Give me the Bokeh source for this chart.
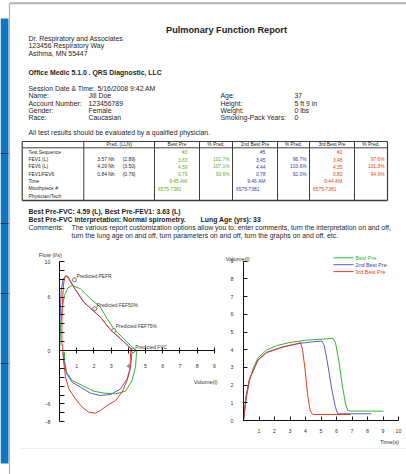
from bokeh.plotting import figure
from bokeh.models import Range1d, LinearAxis, FixedTicker
from bokeh.core.properties import value
from bokeh.embed import file_html
from bokeh.resources import INLINE

# ---------------- report text ----------------
title = "Pulmonary Function Report"
clinic_lines = ["Dr. Respiratory and Associates", "123456 Respiratory Way", "Asthma, MN 55447"]
software = "Office Medic 5.1.0 . QRS Diagnostic, LLC"
session_label = "Session Date & Time:"
session_value = "5/16/2008 9:42 AM"
patient_labels = ["Name:", "Account Number:", "Gender:", "Race:"]
patient_values = ["Jill Doe", "123456789", "Female", "Caucasian"]
patient2_labels = ["Age:", "Height:", "Weight:", "Smoking-Pack Years:"]
patient2_values = ["37", "5 ft 9 in", "0 lbs", "0"]
disclaimer = "All test results should be evaluated by a qualified physician."

# ---------------- table ----------------
table_headers = ["Pred. (LLN)", "Best Pre", "% Pred.", "2nd Best Pre", "% Pred.", "3rd Best Pre", "% Pred."]
row_labels = ["Test Sequence", "FEV1 (L)", "FEV6 (L)", "FEV1/FEV6", "Time", "Mouthpiece #", "Physician/Tech"]
pred_values = ["3.57 Nh", "4.29 Nh", "0.84 Nh"]
lln_values = ["(2.89)", "(3.50)", "(0.76)"]
best_values = ["#3", "3.63", "4.59", "0.79", "9:45 AM", "6575-7381"]
best_pct = ["101.7%", "107.1%", "93.6%"]
second_values = ["#5", "3.45", "4.44", "0.78", "9:46 AM", "6575-7381"]
second_pct = ["96.7%", "103.6%", "92.0%"]
third_values = ["#2", "3.48", "4.35", "0.80", "9:44 AM", "6575-7381"]
third_pct = ["97.6%", "101.3%", "94.9%"]

summary_line = "Best Pre-FVC: 4.59 (L), Best Pre-FEV1: 3.63 (L)"
interpretation = "Best Pre-FVC interpretation: Normal spirometry."
lung_age = "Lung Age (yrs): 33"
comments_label = "Comments:"
comments = ["The various report customization options allow you to: enter comments, turn the interpretation on and off,",
            "turn the lung age on and off, turn parameters on and off, turn the graphs on and off, etc."]

series_names = ["Best Pre", "2nd Best Pre", "3rd Best Pre"]

# ---------------- flow-volume loops ----------------
best_fv_vol = [0, 0.06, 0.16, 0.29, 0.49, 0.74, 1.22, 1.80, 2.38, 2.77, 3.16, 3.64, 4.13, 4.42,
               4.48, 4.42, 4.22, 3.84, 3.26, 2.58, 2.00, 1.32, 0.74, 0.41, 0.29, 0.29]
best_fv_flow = [0, 2.6, 4.87, 6.18, 7.04, 7.30, 6.93, 5.81, 4.87, 3.56, 2.44, 1.5, 0.56, 0.07,
                -0.19, -1.87, -3.37, -4.57, -4.87, -4.79, -4.57, -3.93, -3.37, -2.43, -1.12, -0.19]
second_fv_vol = [0, 0.02, 0.10, 0.21, 0.39, 0.54, 0.83, 1.41, 2.38, 2.97, 3.55, 4.13, 4.31,
                 4.22, 4.13, 3.93, 3.55, 2.97, 2.38, 1.80, 1.22, 0.74, 0.41, 0.25, 0.21]
second_fv_flow = [0, 3.37, 6.74, 8.05, 8.43, 8.05, 7.12, 5.43, 3.75, 2.32, 1.31, 0.3, 0.0,
                  -0.19, -1.87, -3.18, -4.31, -4.94, -5.06, -4.79, -4.12, -3.56, -2.62, -1.12, -0.19]
third_fv_vol = [0.14, 0.14, 0.18, 0.25, 0.34, 0.50, 0.83, 1.41, 2.38, 2.97, 3.55, 4.10, 4.17,
                4.13, 4.09, 3.93, 3.64, 3.26, 2.77, 2.38, 2.09, 1.70, 1.32, 0.93, 0.54, 0.35, 0.25, 0.19, 0.19]
third_fv_flow = [0.56, 3.37, 5.99, 7.68, 8.35, 8.3, 7.12, 5.43, 3.75, 2.32, 1.31, 0.3, 0.05,
                 -0.37, -2.25, -3.37, -4.68, -5.62, -6.18, -6.74, -7.04, -6.93, -6.37, -5.43, -4.31, -3.0, -1.5, 0.0, 0.67]

predicted_names = ["Predicted PEFR", "Predicted FEF50%", "Predicted FEF75%", "Predicted FVC"]
predicted_vol = [0.87, 2.05, 3.16, 4.29]
predicted_flow = [7.94, 4.7, 2.25, 0.0]

# ---------------- volume-time curves ----------------
best_vt_t = [0, 0.17, 0.39, 0.61, 0.93, 1.48, 2.13, 3.0, 4.08, 5.17, 5.78, 5.93, 6.15, 6.36, 6.58, 6.73, 6.9, 9.03]
best_vt_v = [0, 1.2, 2.25, 2.91, 3.53, 3.98, 4.23, 4.41, 4.54, 4.60, 4.64, 4.41, 3.38, 2.07, 0.94, 0.56, 0.53, 0.53]
second_vt_t = [0, 0.17, 0.39, 0.93, 1.48, 2.56, 3.65, 4.52, 5.06, 5.21, 5.43, 5.71, 5.93, 6.08, 8.25]
second_vt_v = [0, 1.38, 2.35, 3.42, 3.85, 4.17, 4.36, 4.45, 4.49, 4.23, 3.19, 1.69, 0.75, 0.38, 0.38]
third_vt_t = [0, 0.17, 0.39, 0.93, 1.48, 2.56, 3.21, 3.69, 3.82, 3.98, 4.13, 4.30, 4.47, 6.9]
third_vt_v = [0, 1.38, 2.35, 3.40, 3.83, 4.15, 4.28, 4.40, 3.94, 2.82, 1.5, 0.56, 0.34, 0.34]

flow_ticks = list(range(-8, 11))
flow_labelled = [10, 6, 0, -6, -8]
vol_ticks = list(range(1, 10))
vt_vol_ticks = list(range(0, 10))
time_ticks = list(range(1, 11))

# ---------------- styling / layout ----------------
W, H = 406, 474
FONT = value("Liberation Sans")
LINE_COLORS = ["#2fb52f", "#5a5ad2", "#ec3a1f"]
TEXT_COLORS = ["#6aad12", "#3c3cae", "#f03c1e"]
INK = "#1e1e1e"

FX0, FXS = 59.0, 17.2
FY0, FYS = 350.0, 8.9
VX0, VXS = 243.0, 15.5
VY0, VYS = 420.0, 17.7

p = figure(width=W, height=H, x_range=Range1d(0, W), y_range=Range1d(H, 0),
           output_backend="svg", toolbar_location=None, x_axis_type=None, y_axis_type=None,
           min_border=0, outline_line_color=None, background_fill_color="white",
           border_fill_color="white")
p.extra_x_ranges = {"vol": Range1d(-FX0 / FXS, (W - FX0) / FXS),
                    "time": Range1d(-VX0 / VXS, (W - VX0) / VXS)}
p.extra_y_ranges = {"flow": Range1d((FY0 - H) / FYS, FY0 / FYS),
                    "vvol": Range1d((VY0 - H) / VYS, VY0 / VYS)}


def txt(x, y, t, size=6.9, color=INK, bold=False, align="left", xr="default", yr="default", xo=0, yo=0):
    p.text(x=x, y=y, text=t, text_font=FONT, text_font_size=f"{size}px",
           text_font_style="bold" if bold else "normal", text_color=color,
           text_align=align, text_baseline="middle", x_range_name=xr, y_range_name=yr,
           x_offset=xo, y_offset=yo)


# page decoration
p.quad(left=[0], right=[8], top=[18], bottom=[463], fill_color="#0a78c2", line_color=None)
p.segment(x0=[0] * 4, x1=[8] * 4, y0=[153, 223, 293, 363], y1=[153, 223, 293, 363],
          line_color="#1b2f45", line_width=1)
p.segment(x0=[9, 9], x1=[406, 9], y0=[2.8, 2.8], y1=[2.8, 474], line_color="#b3b3b3", line_width=[2, 1.2])
p.segment(x0=[20], x1=[406], y0=[448], y1=[448], line_color="#efefef", line_width=1)

# header
txt([226], [29.5], [title], size=9.2, bold=True, align="center")
txt([28] * 3, [37.5, 45, 52.5], clinic_lines)
txt([28], [72], [software], bold=True)
txt([28], [88], [session_label])
txt([97], [88], [session_value])
ROWS_P = [95.3, 102.6, 110, 117.3]
txt([28] * 4, ROWS_P, patient_labels)
txt([88] * 4, ROWS_P, patient_values)
txt([220] * 4, ROWS_P, patient2_labels)
txt([294] * 4, ROWS_P, patient2_values)
txt([28], [131.5], [disclaimer])

# table
COLS = [21.7, 83.3, 154, 199, 232, 277, 309, 354, 387]
T_TOP, T_HEAD, T_BOT = 141, 147.3, 200
ROW_Y = [151.7 + 7.35 * i for i in range(len(row_labels))]
TS = 4.9
p.segment(x0=[COLS[0], COLS[0], COLS[0]], x1=[COLS[-1]] * 3, y0=[T_TOP, T_HEAD, T_BOT],
          y1=[T_TOP, T_HEAD, T_BOT], line_color="#3c3c3c", line_width=[1.2, 1, 1.6])
p.segment(x0=COLS, x1=COLS, y0=[T_TOP] * len(COLS), y1=[T_BOT] * len(COLS),
          line_color="#3c3c3c", line_width=[1.2] + [1] * (len(COLS) - 2) + [1.2])
txt([(COLS[i + 1] + COLS[i + 2]) / 2 for i in range(len(table_headers))], [144.3] * len(table_headers),
    table_headers, size=TS, align="center")
txt([28] * len(row_labels), ROW_Y, row_labels, size=TS)
txt([114] * 3, ROW_Y[1:4], pred_values, size=TS, align="right")
txt([135] * 3, ROW_Y[1:4], lln_values, size=TS, align="right")
for k, (vals, pcts) in enumerate([(best_values, best_pct), (second_values, second_pct), (third_values, third_pct)]):
    cl, cr, pr = COLS[2 + 2 * k], COLS[3 + 2 * k], COLS[4 + 2 * k]
    txt([cr - 12] * 5, ROW_Y[:5], vals[:5], size=TS, color=TEXT_COLORS[k], align="right")
    txt([cl + 3.5], [ROW_Y[5]], vals[5:], size=TS, color=TEXT_COLORS[k])
    txt([pr - 3] * 3, ROW_Y[1:4], pcts, size=TS, color=TEXT_COLORS[k], align="right")

# summary
txt([28], [210.7], [summary_line], bold=True)
txt([28], [218.8], [interpretation], bold=True)
txt([200], [218.8], [lung_age], bold=True)
txt([28], [226.7], [comments_label])
txt([71, 71], [226.7, 234.5], comments)

# ---------------- flow-volume chart ----------------
AX = dict(minor_tick_line_color=None, major_label_text_font="Liberation Sans",
          major_label_text_font_size="5.3px", major_label_text_color="#333333",
          axis_line_color="#111111", major_tick_line_color="#111111", axis_line_width=1,
          major_tick_line_width=1, fixed_location=0)

fx = LinearAxis(x_range_name="vol", y_range_name="flow", bounds=(0, 9),
                ticker=FixedTicker(ticks=vol_ticks, minor_ticks=[]), major_tick_in=3,
                major_tick_out=3, major_label_standoff=10, **AX)
p.add_layout(fx, "below")
fy = LinearAxis(x_range_name="vol", y_range_name="flow", bounds=(-8, 10),
                ticker=FixedTicker(ticks=flow_ticks, minor_ticks=[]), major_tick_in=5,
                major_tick_out=0, major_label_standoff=9,
                major_label_overrides={t: "" for t in flow_ticks if t not in flow_labelled}, **AX)
p.add_layout(fy, "left")

fv = [(best_fv_vol, best_fv_flow), (second_fv_vol, second_fv_flow), (third_fv_vol, third_fv_flow)]
for k, (xs, ys) in enumerate(fv):
    p.line(xs, ys, x_range_name="vol", y_range_name="flow", line_color=LINE_COLORS[k], line_width=1)

p.scatter(predicted_vol, predicted_flow, x_range_name="vol", y_range_name="flow", marker="circle",
          size=4, fill_color="white", line_color="#555555", line_width=0.8)
txt(predicted_vol, predicted_flow, predicted_names, size=4.9, color="#333333",
    xr="vol", yr="flow", xo=2, yo=-3.5)
txt([-1.2], [10.7], ["Flow (l/s)"], size=5.7, color="#333333", xr="vol", yr="flow")
txt([7.8], [-3.5], ["Volume(l)"], size=5.7, color="#333333", xr="vol", yr="flow")

# ---------------- volume-time chart ----------------
vx = LinearAxis(x_range_name="time", y_range_name="vvol", bounds=(0, 10),
                ticker=FixedTicker(ticks=time_ticks, minor_ticks=[]), major_tick_in=4,
                major_tick_out=0, major_label_standoff=8, **AX)
p.add_layout(vx, "below")
vy = LinearAxis(x_range_name="time", y_range_name="vvol", bounds=(0, 9),
                ticker=FixedTicker(ticks=vt_vol_ticks, minor_ticks=[]), major_tick_in=4,
                major_tick_out=0, major_label_standoff=10, **AX)
p.add_layout(vy, "left")

vt = [(best_vt_t, best_vt_v), (second_vt_t, second_vt_v), (third_vt_t, third_vt_v)]
for k, (xs, ys) in enumerate(vt):
    p.line(xs, ys, x_range_name="time", y_range_name="vvol", line_color=LINE_COLORS[k], line_width=1)

txt([-1.15], [9.1], ["Volume(l)"], size=5.7, color="#333333", xr="time", yr="vvol")
txt([8.8], [-1.2], ["Time(s)"], size=5.7, color="#333333", xr="time", yr="vvol")

# legend
LEG_Y = [257.3, 264.2, 271.1]
p.segment(x0=[333] * 3, x1=[353] * 3, y0=LEG_Y, y1=LEG_Y, line_color=LINE_COLORS, line_width=1)
for k in range(3):
    txt([355], [LEG_Y[k]], [series_names[k]], size=5.4, color=TEXT_COLORS[k] if k else LINE_COLORS[0])

open("out.html", "w").write(file_html(p, INLINE))
